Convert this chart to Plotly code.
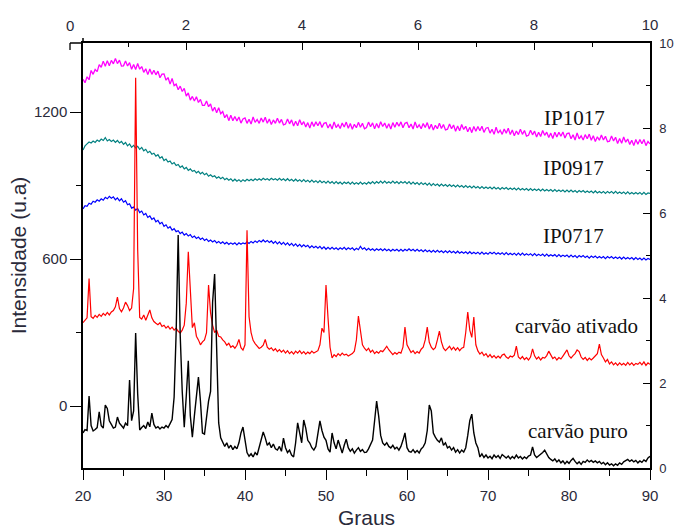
import plotly.graph_objects as go

# 2-theta sampling: start and step (degrees)
theta_start = 20.0
theta_step = 0.25

ip1017 = [
    1334,1320,1344,1332,1370,1354,1374,1365,1394,1383,1408,1387,1410,1389,1411,1397,1419,1398,1412,1388,
    1389,1409,1388,1402,1375,1394,1374,1398,1375,1386,1362,1377,1353,1376,1354,1371,1352,1367,1340,1355,
    1356,1330,1341,1314,1337,1308,1314,1291,1306,1284,1297,1265,1278,1249,1264,1245,1263,1239,1252,1227,
    1227,1245,1222,1233,1204,1220,1197,1218,1193,1202,1177,1190,1165,1187,1165,1182,1164,1180,1155,1172,
    1176,1154,1171,1151,1180,1158,1170,1154,1176,1159,1179,1154,1172,1149,1168,1154,1175,1155,1170,1148,
    1151,1172,1152,1168,1143,1163,1144,1169,1148,1161,1139,1157,1135,1160,1141,1160,1144,1161,1137,1154,
    1157,1135,1151,1131,1160,1137,1149,1133,1155,1139,1159,1134,1153,1130,1150,1136,1158,1138,1154,1132,
    1137,1159,1140,1156,1132,1153,1135,1161,1141,1155,1134,1152,1131,1157,1138,1158,1142,1160,1136,1154,
    1158,1136,1151,1131,1160,1136,1148,1132,1153,1137,1157,1131,1150,1127,1146,1132,1154,1133,1149,1127,
    1130,1151,1132,1147,1122,1143,1124,1149,1129,1142,1120,1138,1116,1141,1122,1141,1124,1142,1117,1134,
    1137,1114,1130,1109,1138,1114,1126,1109,1131,1114,1134,1108,1127,1103,1123,1108,1130,1109,1125,1102,
    1105,1126,1107,1122,1098,1118,1100,1125,1105,1118,1096,1114,1092,1118,1098,1118,1101,1119,1094,1112,
    1114,1091,1107,1086,1115,1091,1103,1086,1108,1091,1110,1085,1103,1080,1099,1085,1106,1086,1101,1079,
    1081,1102,1082,1097,1072,1092,1073,1098,1077,1090,1068,1085,1063,1088,1069,1088,1071,1088,1063,1080,
    1070,
]

ip0917 = [
    1045,1062,1070,1078,1074,1082,1076,1086,1080,1090,1084,1096,1082,1088,1080,1086,1076,1084,1074,1080,
    1068,1076,1062,1070,1056,1064,1054,1060,1048,1056,1042,1048,1034,1040,1028,1032,1020,1026,1012,1018,
    1002,1008,996,1000,988,994,982,986,974,980,968,974,962,968,958,962,952,958,948,954,
    944,950,938,944,936,940,930,936,928,934,924,930,922,928,918,926,918,924,916,924,
    918,926,920,926,920,928,922,928,922,930,924,928,922,930,924,928,922,930,922,928,
    920,928,920,926,918,926,918,924,916,924,916,922,914,922,914,920,912,920,912,918,
    910,918,910,916,908,916,908,914,906,914,908,914,906,914,906,912,906,914,906,912,
    906,914,908,916,908,916,910,918,910,918,910,916,910,918,910,916,908,916,910,916,
    908,916,906,914,906,912,904,912,904,910,902,910,900,908,900,906,898,906,898,904,
    896,904,896,902,894,902,894,900,892,900,892,898,890,898,890,896,888,896,888,894,
    888,894,886,894,886,892,884,892,886,892,884,890,884,890,882,890,882,888,882,888,
    880,888,880,886,880,886,878,886,878,884,878,884,876,884,876,882,876,882,874,882,
    874,882,874,880,872,880,874,880,872,878,872,878,870,878,870,876,870,876,868,876,
    870,876,868,876,868,874,868,874,866,874,866,872,866,872,866,872,864,872,864,870,
    868,
]

ip0717 = [
    805,818,815,828,824,836,832,842,836,846,840,852,846,856,848,854,842,850,838,846,
    832,838,822,826,808,812,800,806,790,796,780,786,770,776,762,768,752,758,744,750,
    734,740,726,732,718,724,712,716,704,710,698,704,694,700,688,694,684,690,680,686,
    676,682,672,678,670,676,666,672,664,670,662,668,660,666,660,666,658,666,660,666,
    662,670,664,672,666,674,668,676,670,678,670,676,668,674,664,672,662,670,660,668,
    658,666,656,664,654,662,652,660,650,658,650,656,646,654,646,652,644,652,642,650,
    640,648,640,648,640,646,638,646,640,648,638,646,640,646,636,644,638,652,640,646,
    636,644,636,642,634,642,636,642,634,642,634,640,632,640,634,640,632,640,632,640,
    634,642,634,640,632,640,632,638,630,638,630,636,628,636,628,636,628,634,626,634,
    626,634,626,632,624,632,624,630,624,630,622,630,622,628,622,628,620,628,620,626,
    620,628,622,628,620,626,620,626,618,626,618,624,618,624,616,624,616,624,616,622,
    616,622,614,622,614,620,614,620,612,620,612,618,612,618,610,618,610,616,610,616,
    608,616,608,614,606,614,608,614,606,612,604,612,606,612,604,610,604,610,602,610,
    604,610,602,608,602,608,600,608,600,606,600,606,598,606,598,604,596,604,596,602,
    598,
]

carvao_ativado = [
    340,352,360,520,365,358,370,362,374,366,378,370,382,372,384,390,405,445,398,385,
    400,424,410,390,400,480,1340,640,362,355,372,350,368,392,360,345,338,332,340,325,
    330,318,326,314,322,310,318,305,298,310,330,420,630,460,320,340,285,270,250,262,
    270,300,494,380,330,300,310,285,282,270,262,248,256,240,246,236,248,272,238,228,
    250,718,365,300,268,255,245,235,240,248,272,240,232,238,226,234,222,230,220,228,
    216,226,214,222,212,224,216,226,214,222,212,220,214,224,216,222,226,250,318,300,
    494,360,240,196,210,202,214,206,216,208,212,204,210,214,224,270,367,300,250,236,
    226,236,220,228,214,222,216,226,222,232,244,230,218,210,218,212,220,216,240,322,
    250,232,218,226,214,222,216,232,240,270,322,260,240,230,238,270,306,262,236,226,
    234,244,230,240,228,238,226,236,240,300,384,310,280,363,250,225,212,220,206,214,
    200,210,198,206,196,204,196,208,212,200,194,204,200,208,245,200,192,202,190,198,
    188,200,233,205,192,200,188,198,196,206,224,208,194,200,188,198,192,204,215,229,
    205,196,206,214,229,222,200,190,198,186,196,188,196,204,214,253,210,196,180,190,
    172,180,168,176,166,176,168,174,166,178,168,176,166,174,170,178,168,180,166,176,
    170,
]

carvao_puro = [
    -110,-96,-100,41,-80,-102,-96,-88,-24,-80,-90,4,-10,-60,-75,-90,-86,-45,-70,-82,
    -90,-70,-80,106,-60,-20,298,50,-98,-88,-80,-92,-65,-85,-29,-75,-90,-84,-94,-86,
    -90,-80,-88,-72,-55,37,300,698,290,60,-86,40,185,-40,-127,-40,30,118,20,-110,
    -115,-40,20,60,424,539,180,-69,-130,-151,-165,-150,-172,-160,-178,-165,-175,-150,-110,-86,
    -150,-190,-205,-195,-208,-190,-200,-170,-140,-106,-130,-160,-150,-170,-155,-175,-180,-165,-185,-131,
    -170,-190,-180,-200,-208,-150,-69,-110,-150,-57,-90,-140,-151,-170,-180,-165,-120,-61,-100,-127,
    -140,-175,-188,-110,-150,-175,-139,-170,-192,-160,-135,-170,-185,-175,-192,-180,-170,-185,-178,-190,
    -188,-175,-160,-139,-60,20,-40,-120,-151,-160,-150,-165,-171,-160,-175,-168,-180,-165,-140,-110,
    -170,-185,-188,-178,-190,-182,-192,-175,-167,-150,-100,4,-20,-110,-127,-140,-147,-130,-160,-150,
    -171,-165,-180,-170,-188,-178,-192,-180,-188,-170,-120,-60,-33,-110,-151,-170,-208,-195,-210,-200,
    -212,-205,-215,-200,-210,-202,-214,-198,-205,-212,-204,-216,-206,-214,-200,-212,-206,-216,-208,-214,
    -204,-200,-167,-200,-210,-204,-198,-190,-180,-195,-210,-218,-224,-216,-228,-220,-232,-224,-236,-226,
    -234,-222,-214,-226,-236,-228,-238,-226,-230,-220,-228,-222,-230,-224,-232,-226,-236,-230,-240,-232,
    -241,-236,-244,-236,-242,-232,-238,-228,-224,-218,-226,-220,-228,-222,-232,-224,-230,-220,-226,-212,
    -205,
]

series_names = ["IP1017", "IP0917", "IP0717", "carvão ativado", "carvão puro"]
series_values = [ip1017, ip0917, ip0717, carvao_ativado, carvao_puro]
series_colors = ["#FF00FF", "#008080", "#0000FF", "#FF0000", "#000000"]
series_widths = [1.3, 1.2, 1.2, 1.2, 1.4]

for v in series_values:
    assert len(v) == 281, len(v)

# label anchor positions (x in degrees, y in intensity)
label_pos = {
    "IP1017": (80.7, 1176),
    "IP0917": (80.5, 971),
    "IP0717": (80.5, 696),
    "carvão ativado": (80.9, 328),
    "carvão puro": (81.1, -100),
}

# secondary (top / right) scales
top_range = [0.224, 10]
right_range = [0, 10]

fig = go.Figure()
for name, vals, col, wd in zip(series_names, series_values, series_colors, series_widths):
    fig.add_trace(go.Scatter(
        x0=theta_start, dx=theta_step, y=vals, mode="lines", name=name,
        line=dict(color=col, width=wd), showlegend=False, hoverinfo="skip",
    ))

# invisible traces so the top and right scales are drawn
fig.add_trace(go.Scatter(x=[5], y=[None], xaxis="x2", yaxis="y", mode="lines",
                         showlegend=False, hoverinfo="skip"))
fig.add_trace(go.Scatter(x=[None], y=[5], xaxis="x", yaxis="y2", mode="lines",
                         showlegend=False, hoverinfo="skip"))

for name, (lx, ly) in label_pos.items():
    fig.add_annotation(x=lx, y=ly, xref="x", yref="y", text=name, showarrow=False,
                       font=dict(family="Liberation Serif", size=21, color="#111"))

tickfont = dict(family="Liberation Sans, Arial", size=15, color="#2a2a3a")
rightfont = dict(family="Liberation Sans, Arial", size=13, color="#2a2a3a")
titlefont = dict(family="Liberation Sans, Arial", size=21, color="#2a2a3a")

W, H = 675, 529
ml, mr, mt, mb = 83, 25, 43, 61
plot_w = W - ml - mr
plot_h = H - mt - mb

# the top scale's line runs a little past the left frame, down to its 0 tick
zero_paper = -top_range[0] / (top_range[1] - top_range[0])
fig.add_shape(type="line", xref="paper", yref="paper", x0=zero_paper, x1=0, y0=1, y1=1,
              line=dict(color="black", width=1.5))
fig.add_shape(type="line", xref="paper", yref="paper", x0=zero_paper, x1=zero_paper,
              y0=1, y1=1 - 7 / plot_h, line=dict(color="black", width=1.3))
# left frame pokes slightly above the top scale
fig.add_shape(type="line", xref="paper", yref="paper", x0=0, x1=0, y0=1, y1=1 + 5 / plot_h,
              line=dict(color="black", width=1.5))
fig.add_annotation(x=zero_paper, y=1, xref="paper", yref="paper", text="0", showarrow=False,
                   xanchor="center", yanchor="bottom", yshift=7, font=tickfont)

axis_common = dict(showline=True, linecolor="black", linewidth=1.5, showgrid=False,
                   zeroline=False, tickfont=tickfont, automargin=False,
                   tickcolor="black", tickwidth=1.3)

fig.update_layout(
    template="none",
    width=W, height=H,
    margin=dict(l=ml, r=mr, t=mt, b=mb),
    paper_bgcolor="white", plot_bgcolor="white",
    xaxis=dict(
        range=[20, 90], tick0=20, dtick=10, ticks="outside", ticklen=10,
        minor=dict(ticks="outside", ticklen=6, dtick=5, tickcolor="black", tickwidth=1.3),
        ticklabelstandoff=3,
        title=dict(text="Graus", font=titlefont, standoff=12),
        **axis_common,
    ),
    yaxis=dict(
        range=[-253, 1482], tick0=0, dtick=600, ticks="outside", ticklen=11,
        minor=dict(ticks="outside", ticklen=5, dtick=300, tickcolor="black", tickwidth=1.3),
        title=dict(text="Intensidade (u.a)", font=titlefont, standoff=2),
        **axis_common,
    ),
    xaxis2=dict(
        range=top_range, overlaying="x", side="top", anchor="y",
        tick0=0, dtick=2, ticks="inside", ticklen=7,
        minor=dict(ticks="inside", ticklen=4, dtick=1, tickcolor="black", tickwidth=1.3),
        ticklabelstandoff=5,
        **axis_common,
    ),
    yaxis2=dict(
        range=right_range, overlaying="y", side="right", anchor="x",
        tick0=0, dtick=2, ticks="inside", ticklen=7,
        minor=dict(ticks="inside", ticklen=4, dtick=1, tickcolor="black", tickwidth=1.3),
        ticklabelstandoff=5,
        **{**axis_common, "tickfont": rightfont},
    ),
)

# remove the default page margin so the 675x529 figure fills the window exactly
fig.write_html(
    "out.html",
    config={"displayModeBar": False},
    post_script="document.body.style.margin='0';document.body.style.overflow='hidden';",
)
